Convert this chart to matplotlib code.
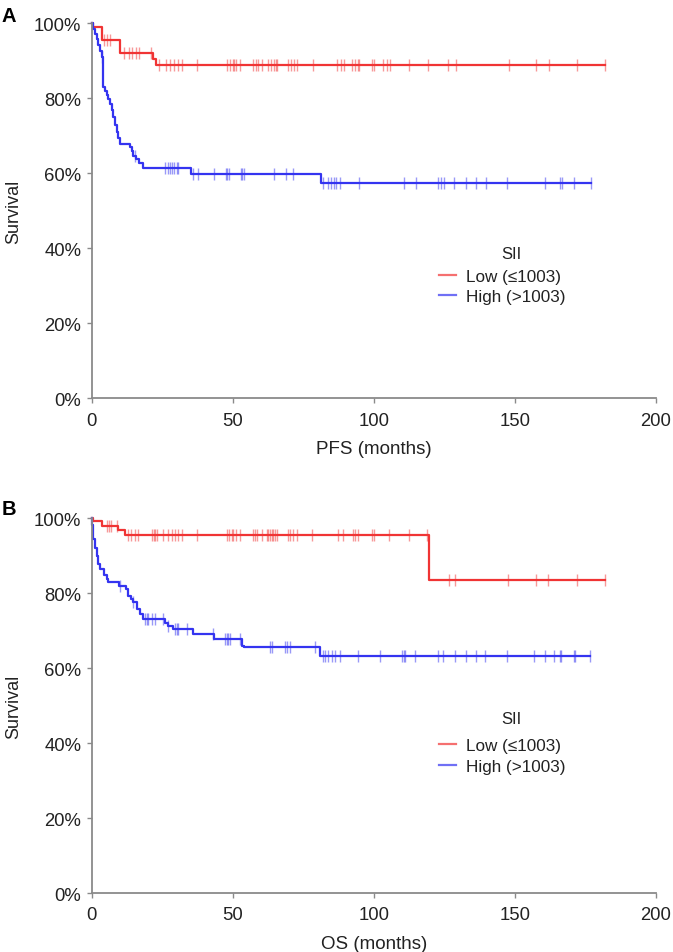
import matplotlib
matplotlib.use("Agg")
import matplotlib.pyplot as plt
import numpy as np

plt.rcParams['font.family'] = ['Liberation Sans', 'DejaVu Sans']

# ---- data (months, survival %) ----
# A: PFS
pfs_low_t = [0.5, 3.5, 10.0, 21.8, 22.9]
pfs_low_s = [99.0, 95.6, 92.0, 90.4, 88.9]
pfs_low_end = 181.9
pfs_low_cens = [4.4, 5.3, 6.3, 11.5, 13.2, 14.2, 15.6, 16.8, 20.9, 24.0, 26.4, 27.8,
                29.2, 30.4, 31.9, 37.2, 48.1, 49.1, 49.9, 50.5, 51.3, 52.6, 57.2, 58.2,
                59.0, 60.5, 62.3, 63.5, 64.7, 65.2, 65.8, 69.6, 70.6, 71.7, 72.9, 78.3,
                87.1, 88.3, 89.5, 92.4, 93.3, 94.2, 94.8, 99.5, 100.1, 103.4, 104.6,
                105.8, 112.5, 119.3, 126.3, 129.1, 148.0, 157.4, 161.9, 172.0, 181.9]

pfs_high_t = [0.6, 1.2, 1.8, 2.3, 2.9, 3.5, 3.9, 4.7, 5.3, 5.9, 6.5, 7.1, 7.7, 8.3,
              8.9, 9.4, 10.0, 13.6, 14.2, 14.8, 15.7, 16.9, 18.3, 35.1, 81.2]
pfs_high_s = [98.5, 97.1, 95.8, 94.2, 92.7, 90.9, 82.9, 82.0, 80.9, 79.8, 78.5, 77.0,
              74.9, 72.9, 70.9, 69.3, 67.8, 66.9, 65.9, 64.7, 63.8, 62.7, 61.3, 59.9, 57.4]
pfs_high_end = 177.0
pfs_high_cens = [3.7, 15.2, 26.1, 26.9, 27.8, 28.6, 29.2, 30.1, 30.4, 36.0, 37.5, 43.4,
                 47.5, 48.1, 48.7, 52.8, 53.4, 54.0, 64.7, 68.8, 71.2, 82.1, 83.6, 84.8,
                 85.7, 86.5, 88.0, 94.8, 110.8, 114.9, 122.9, 123.8, 124.7, 128.5, 132.6,
                 136.2, 139.7, 147.2, 160.8, 166.0, 166.5, 171.0, 177.0]

# B: OS
os_low_t = [0.5, 3.5, 9.4, 11.8, 119.4]
os_low_s = [99.2, 98.0, 96.8, 95.6, 83.6]
os_low_end = 182.0
os_low_cens = [5.3, 6.0, 6.8, 8.8, 13.0, 13.9, 15.4, 16.5, 21.3, 21.9, 22.4, 23.0, 25.4,
               27.2, 28.4, 29.6, 30.7, 31.9, 37.2, 47.9, 48.8, 49.6, 50.2, 51.1, 52.6,
               57.0, 57.9, 58.7, 60.3, 62.1, 62.6, 63.2, 63.8, 64.4, 65.0, 65.6, 69.4,
               70.3, 71.5, 72.7, 78.0, 87.4, 89.2, 92.6, 93.4, 94.2, 99.3, 99.9, 105.2,
               112.6, 119.0, 126.5, 128.8, 147.7, 157.6, 161.7, 172.0, 182.0]

os_high_t = [0.2, 0.4, 0.6, 1.2, 1.8, 2.3, 2.9, 4.4, 5.3, 5.9, 9.6, 12.2, 13.0, 13.9,
             14.8, 16.0, 17.1, 18.1, 26.0, 27.2, 28.9, 35.8, 43.3, 53.2, 53.8, 81.0]
os_high_s = [98.2, 96.4, 94.6, 92.0, 90.0, 87.8, 86.5, 85.0, 83.8, 83.0, 82.0, 81.1,
             79.4, 78.5, 77.6, 75.8, 74.5, 73.1, 72.1, 71.4, 70.5, 69.1, 67.8, 66.0,
             65.6, 63.4]
os_high_end = 176.7
os_high_cens = [10.0, 14.8, 19.0, 19.5, 20.1, 21.3, 22.4, 25.4, 27.2, 29.5, 30.1, 30.7,
                33.7, 43.1, 47.3, 47.9, 48.4, 49.0, 52.6, 63.2, 63.8, 68.5, 69.1, 70.3,
                79.2, 82.1, 82.7, 83.9, 85.1, 86.3, 88.1, 94.5, 102.2, 109.9, 110.5,
                111.1, 114.6, 122.9, 124.5, 128.8, 132.6, 136.3, 139.5, 147.2, 156.6,
                160.5, 163.7, 166.0, 166.3, 170.8, 171.4, 176.7]

labels = ['Low (\u22641003)', 'High (>1003)']
red = '#F03434'
blue = '#3434F0'
gray = '#8a8a8a'


def km(ax, t, s, end, cens, col):
    tt = np.r_[0, t, end]
    ss = np.r_[100, s, s[-1]]
    ax.step(tt, ss, where='post', color=col, lw=1.6, clip_on=False)
    # censor marks sit on the curve
    idx = np.searchsorted(tt, cens, side='right') - 1
    ax.plot(cens, ss[idx], ls='none', marker='|', ms=9, mew=1.0,
            color=col, alpha=0.5, clip_on=False)


def setup(ax, xlab, leg_top, sii_y):
    ax.set_xlim(0, 200)
    ax.set_ylim(0, 100)
    ax.set_xticks([0, 50, 100, 150, 200])
    ax.set_yticks([0, 20, 40, 60, 80, 100])
    ax.set_yticklabels(['%d%%' % v for v in range(0, 101, 20)])
    for sp in ['top', 'right']:
        ax.spines[sp].set_visible(False)
    for sp in ['left', 'bottom']:
        ax.spines[sp].set_color(gray)
        ax.spines[sp].set_linewidth(1.3)
    ax.tick_params(axis='both', direction='out', length=3.5, width=1, color=gray,
                   labelsize=13.3, labelcolor='#222222')
    ax.tick_params(axis='x', pad=6)
    ax.tick_params(axis='y', pad=4)
    ax.set_xlabel(xlab, fontsize=13.5, color='#222222')
    ax.xaxis.set_label_coords(0.5, -0.112)
    ax.set_ylabel('Survival', fontsize=13, color='#222222')
    ax.yaxis.set_label_coords(-0.138, 0.5)
    ax.yaxis.label.set_va('center')
    ax.text(0.744, sii_y, 'SII', transform=ax.transAxes, ha='center', va='center',
            fontsize=12, color='#222222')
    h1, = ax.plot([], [], color='#F57070', lw=1.6)
    h2, = ax.plot([], [], color='#7070F5', lw=1.6)
    ax.legend([h1, h2], labels, loc='upper left', bbox_to_anchor=(0.616, leg_top),
              frameon=False, fontsize=12.3, handlelength=0.95, handletextpad=0.6,
              labelspacing=0.3, borderpad=0, borderaxespad=0, labelcolor='#222222')


fig = plt.figure(figsize=(6.73, 9.53), dpi=100)
axA = fig.add_axes([0.1363, 0.581, 0.8385, 0.3935])
axB = fig.add_axes([0.1363, 0.0616, 0.8385, 0.3935])

km(axA, pfs_low_t, pfs_low_s, pfs_low_end, pfs_low_cens, red)
km(axA, pfs_high_t, pfs_high_s, pfs_high_end, pfs_high_cens, blue)
setup(axA, 'PFS (months)', 0.344, 0.385)

km(axB, os_low_t, os_low_s, os_low_end, os_low_cens, red)
km(axB, os_high_t, os_high_s, os_high_end, os_high_cens, blue)
setup(axB, 'OS (months)', 0.413, 0.465)

fig.text(2 / 673, 1 - 21.7 / 953, 'A', fontsize=14.5, fontweight='bold', va='baseline')
fig.text(2 / 673, 1 - 515 / 953, 'B', fontsize=14.5, fontweight='bold', va='baseline')

fig.savefig('out.png', dpi=100)
